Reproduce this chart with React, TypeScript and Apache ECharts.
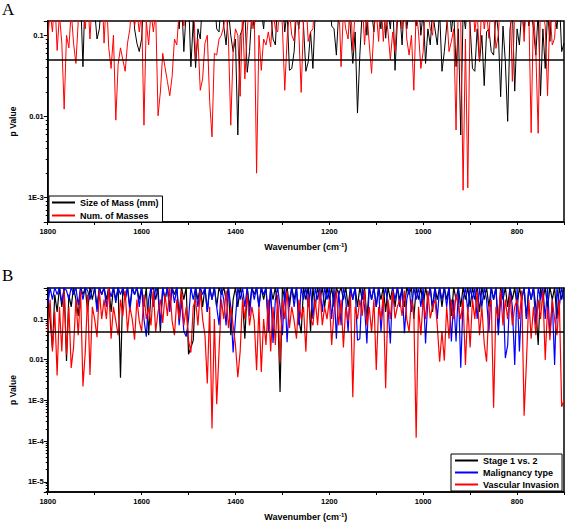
import React, { useEffect, useRef } from 'react';
import * as echarts from 'echarts';

// Wavenumber grid (cm^-1), 1800 -> 700 in steps of 5
const wavenumbers: number[] = [];
for (let w = 1800; w >= 700; w -= 5) wavenumbers.push(w);

// Panel A: p values
const sizeOfMass: number[] = [
  .5, .4, .5, .3, .5, .4, .5, .3, .5, .4,
  .5, .3, .5, .4, .3, .041, .4, .5, .3, .5,
  .2, .09, .12, .3, .5, .4, .3, .5, .4, .3,
  .5, .3, .5, .4, .3, .2, .5, .12, .08, .063,
  .09, .3, .5, .4, .3, .5, .4, .3, .5, .4,
  .5, .3, .4, .5, .2, .3, .12, .3, .063, .2,
  .3, .041, .15, .04, .12, .09, .3, .2, .4, .3,
  .4, .3, .12, .11, .3, .13, .076, .2, .1, .063,
  .09, .0059, .1, .12, .2, .035, .063, .2, .12, .3,
  .3, .2, .12, .3, .4, .2, .09, .076, .3, .2,
  .3, .11, .2, .037, .039, .063, .2, .12, .3, .13,
  .036, .047, .11, .039, .2, .5, .5, .5, .5, .5,
  .4, .13, .12, .057, .2, .3, .4, .2, .3, .12,
  .045, .11, .011, .057, .2, .3, .1, .3, .2, .11,
  .3, .2, .12, .4, .092, .2, .12, .3, .037, .15,
  .2, .076, .3, .12, .2, .3, .2, .13, .3, .1,
  .2, .045, .12, .076, .2, .12, .076, .2, .036, .063,
  .13, .3, .11, .2, .041, .12, .0059, .2, .12, .3,
  .13, .039, .036, .12, .047, .1, .024, .11, .12, .063,
  .057, .2, .11, .0175, .13, .047, .0087, .12, .2, .0205,
  .12, .076, .2, .11, .3, .13, .2, .12, .057, .2,
  .018, .12, .039, .2, .084, .3, .2, .12, .3, .063,
  .08,
];

const numOfMasses: number[] = [
  .09, .2, .11, .3, .065, .18, .08, .0123, .1, .07,
  .2, .08, .045, .15, .3, .2, .12, .3, .09, .3,
  .4, .2, .3, .5, .08, .3, .07, .039, .1, .009,
  .044, .07, .05, .036, .08, .12, .3, .13, .2, .11,
  .2, .0078, .15, .076, .2, .11, .2, .0102, .02, .06,
  .04, .027, .018, .031, .09, .076, .2, .3, .13, .3,
  .3, .2, .4, .05, .09, .021, .029, .08, .1, .0153,
  .0056, .06, .057, .09, .1, .13, .2, .09, .0078, .063,
  .12, .1, .0177, .2, .029, .11, .3, .12, .2, .002,
  .1, .037, .09, .076, .11, .072, .2, .12, .11, .3,
  .13, .021, .09, .2, .1, .085, .3, .11, .0198, .15,
  .3, .084, .11, .12, .3, .5, .5, .5, .5, .5,
  .5, .3, .2, .4, .3, .041, .2, .12, .09, .3,
  .065, .2, .3, .15, .3, .076, .2, .08, .034, .12,
  .2, .084, .3, .084, .2, .11, .05, .11, .063, .2,
  .3, .12, .3, .09, .057, .1, .021, .2, .11, .039,
  .063, .3, .2, .12, .1, .3, .2, .4, .3, .2,
  .2, .063, .084, .12, .0068, .3, .15, .00123, .09, .00132,
  .2, .3, .11, .2, .047, .3, .12, .2, .092, .3,
  .2, .069, .1, .3, .2, .3, .2, .3, .027, .2,
  .3, .2, .3, .084, .3, .2, .0063, .2, .063, .0062,
  .3, .2, .13, .018, .2, .076, .092, .3, .2, .3,
  .2,
];

// Panel B: p values
const stage1vs2: number[] = [
  .3, .1, .019, .4, .15, .6, .2, .6, .0093, .4,
  .2, .6, .3, .12, .6, .4, .6, .15, .6, .3,
  .6, .2, .6, .4, .6, .3, .6, .15, .6, .3,
  .6, .0036, .6, .3, .6, .2, .6, .4, .6, .3,
  .6, .2, .6, .04, .5, .6, .3, .6, .049, .6,
  .3, .6, .2, .6, .4, .6, .12, .6, .3, .6,
  .0136, .02, .03, .6, .3, .6, .2, .6, .15, .6,
  .3, .6, .2, .6, .4, .6, .3, .6, .04, .3,
  .6, .2, .6, .3, .033, .6, .2, .6, .4, .6,
  .2, .6, .3, .6, .1, .6, .3, .6, .2, .0016,
  .6, .3, .6, .2, .6, .3, .6, .1, .045, .6,
  .3, .6, .05, .6, .2, .6, .3, .6, .2, .6,
  .3, .6, .2, .6, .4, .6, .3, .6, .2, .6,
  .3, .6, .2, .6, .3, .6, .1, .6, .3, .6,
  .2, .6, .3, .6, .15, .6, .3, .6, .2, .6,
  .3, .6, .2, .6, .4, .6, .1, .6, .3, .6,
  .2, .6, .3, .6, .15, .6, .3, .6, .2, .6,
  .3, .6, .12, .6, .3, .6, .2, .6, .3, .6,
  .2, .6, .3, .6, .15, .6, .3, .6, .2, .6,
  .3, .6, .07, .6, .3, .6, .2, .6, .3, .6,
  .2, .6, .3, .6, .1, .6, .3, .6, .2, .023,
  .6, .3, .6, .2, .6, .3, .6, .1, .6, .3,
  .6,
];

const malignancyType: number[] = [
  .22, .6, .3, .6, .4, .6, .25, .6, .5, .3,
  .6, .4, .6, .22, .6, .3, .6, .5, .3, .6,
  .6, .15, .6, .4, .6, .2, .6, .35, .6, .25,
  .6, .4, .6, .3, .6, .15, .6, .4, .6, .2,
  .6, .1, .037, .3, .6, .2, .6, .4, .07, .6,
  .3, .6, .15, .6, .25, .6, .071, .3, .05, .037,
  .1, .6, .3, .6, .2, .6, .4, .6, .15, .6,
  .3, .6, .2, .071, .6, .3, .07, .6, .2, .015,
  .1, .6, .3, .6, .2, .6, .12, .6, .3, .6,
  .2, .6, .4, .6, .05, .6, .026, .3, .6, .2,
  .04, .6, .027, .3, .6, .2, .6, .071, .6, .3,
  .6, .2, .6, .1, .6, .3, .6, .15, .6, .3,
  .6, .1, .6, .033, .5, .071, .6, .3, .049, .6,
  .3, .6, .03, .033, .6, .2, .025, .6, .3, .6,
  .2, .6, .049, .3, .6, .2, .025, .6, .3, .6,
  .2, .6, .045, .3, .6, .15, .6, .3, .6, .2,
  .6, .025, .3, .6, .2, .6, .1, .6, .3, .6,
  .2, .6, .028, .3, .028, .6, .0064, .3, .6, .15,
  .6, .3, .6, .1, .6, .2, .6, .3, .049, .6,
  .3, .6, .04, .3, .6, .011, .023, .6, .2, .0074,
  .6, .016, .3, .6, .1, .6, .3, .6, .07, .6,
  .3, .6, .1, .6, .04, .3, .0074, .6, .2, .6,
  .3,
];

const vascularInvasion: number[] = [
  .05, .3, .016, .15, .0041, .2, .016, .5, .013, .2,
  .0063, .02, .3, .04, .5, .0022, .016, .4, .0042, .2,
  .1, .036, .5, .1, .3, .1, .6, .033, .2, .09,
  .04, .3, .12, .5, .049, .2, .1, .031, .3, .09,
  .049, .4, .1, .2, .07, .5, .049, .15, .3, .08,
  .4, .12, .6, .09, .04, .3, .1, .5, .07, .2,
  .03, .015, .2, .3, .07, .5, .1, .04, .0026, .2,
  .000205, .1, .00081, .016, .3, .1, .5, .06, .2, .07,
  .023, .0037, .016, .3, .1, .4, .07, .2, .09, .0055,
  .2, .005, .1, .023, .3, .016, .2, .023, .4, .0085,
  .3, .1, .5, .06, .2, .09, .033, .3, .1, .2,
  .0158, .4, .1, .07, .3, .071, .5, .071, .2, .1,
  .3, .023, .15, .5, .07, .3, .02, .2, .09, .4,
  .0012, .2, .1, .3, .12, .5, .07, .2, .047, .3,
  .0056, .2, .1, .4, .002, .3, .1, .5, .104, .2,
  .3, .12, .5, .1, .049, .3, .15, .00012, .2, .04,
  .3, .1, .5, .104, .2, .3, .07, .0089, .05, .0095,
  .2, .033, .3, .1, .4, .2, .1, .3, .0074, .2,
  .02, .3, .1, .5, .04, .2, .025, .0089, .2, .3,
  .00066, .2, .1, .5, .07, .3, .1, .4, .07, .2,
  .3, .1, .5, .00042, .0089, .3, .033, .2, .04, .3,
  .1, .5, .0098, .2, .03, .3, .1, .04, .3, .0007,
  .001,
];

const threshold = 0.05;

const FONT = 'Liberation Sans, Arial, sans-serif';

const pairs = (vals: number[]) => vals.map((p, i) => [wavenumbers[i], p]);

const fmtLog = (v: number) => {
  const l = Math.log10(v);
  const e = Math.round(l);
  if (Math.abs(l - e) > 1e-6) return '';
  if (e >= -2) return String(Math.pow(10, e));
  return '1E' + e;
};

const axisLabelStyle = { fontSize: 7.5, fontWeight: 'bold', color: '#000', fontFamily: FONT };
const axisNameStyle = {
  fontSize: 9,
  fontWeight: 'bold',
  color: '#000',
  fontFamily: FONT,
  rich: {
    sup: { fontSize: 6, fontWeight: 'bold', fontFamily: FONT, color: '#000', verticalAlign: 'top', lineHeight: 8 },
  },
};

const xAxisFor = (gridIndex: number) => ({
  type: 'value',
  gridIndex,
  min: 700,
  max: 1800,
  interval: 100,
  inverse: true,
  name: 'Wavenumber (cm{sup|-1})',
  nameLocation: 'middle',
  nameGap: 20,
  nameTextStyle: axisNameStyle,
  axisLine: { show: true, onZero: false, lineStyle: { color: '#000', width: 1.5 } },
  axisTick: { show: true, length: 3, lineStyle: { color: '#000', width: 1 } },
  axisLabel: {
    ...axisLabelStyle,
    margin: 5,
    formatter: (v: number) => (v % 200 === 0 ? String(v) : ''),
  },
  splitLine: { show: false },
});

const yAxisFor = (gridIndex: number, min: number, max: number) => ({
  type: 'log',
  logBase: 10,
  gridIndex,
  min,
  max,
  name: 'p Value',
  nameLocation: 'middle',
  nameGap: 27,
  nameRotate: 90,
  nameTextStyle: { fontSize: 8.5, fontWeight: 'bold', color: '#000', fontFamily: FONT },
  axisLine: { show: true, onZero: false, lineStyle: { color: '#000', width: 1.5 } },
  axisTick: { show: true, length: 4, lineStyle: { color: '#000', width: 1 } },
  minorTick: { show: true, splitNumber: 9, length: 2, lineStyle: { color: '#000', width: 1 } },
  axisLabel: { ...axisLabelStyle, margin: 4, formatter: fmtLog },
  splitLine: { show: false },
  minorSplitLine: { show: false },
});

const lineSeries = (name: string, vals: number[], color: string, idx: number, withLine: boolean, width: number) => ({
  name,
  type: 'line',
  xAxisIndex: idx,
  yAxisIndex: idx,
  data: pairs(vals),
  symbol: 'none',
  showSymbol: false,
  clip: true,
  color,
  lineStyle: { color, width },
  emphasis: { disabled: true },
  markLine: withLine
    ? {
        silent: true,
        symbol: ['none', 'none'],
        label: { show: false },
        lineStyle: { color: '#000', width: 1.5, type: 'solid' },
        data: [{ yAxis: threshold }],
        animation: false,
      }
    : undefined,
});

const legendBase = {
  orient: 'vertical',
  icon: 'rect',
  itemWidth: 23,
  itemHeight: 2,
  borderColor: '#000',
  borderWidth: 1,
  backgroundColor: '#fff',
  selectedMode: false,
  textStyle: { fontSize: 9, fontWeight: 'bold', color: '#000', fontFamily: FONT, lineHeight: 11 },
};

export default function App() {
  const ref = useRef<HTMLDivElement>(null);
  useEffect(() => {
    if (!ref.current) return;
    const chart = echarts.init(ref.current, undefined, { renderer: 'svg' });
    chart.setOption({
      animation: false,
      backgroundColor: '#fff',
      grid: [
        { left: 45, top: 21, width: 519, height: 201, show: true, borderColor: '#000', borderWidth: 1.5, backgroundColor: 'transparent' },
        { left: 45, top: 288, width: 520, height: 204, show: true, borderColor: '#000', borderWidth: 1.5, backgroundColor: 'transparent' },
      ],
      xAxis: [xAxisFor(0), xAxisFor(1)],
      yAxis: [yAxisFor(0, 5e-4, 0.15), yAxisFor(1, 5.6e-6, 0.58)],
      legend: [
        { ...legendBase, data: ['Size of Mass (mm)', 'Num. of Masses'], left: 49, top: 196, itemGap: 2, padding: [1, 4, 1, 3] },
        { ...legendBase, data: ['Stage 1 vs. 2', 'Malignancy type', 'Vascular Invasion'], left: 451, top: 454, itemGap: 1, padding: [1, 3, 1, 4] },
      ],
      graphic: [
        { type: 'text', left: 2, top: 1, style: { text: 'A', fontSize: 17, fontFamily: 'Liberation Serif, Times New Roman, serif', fill: '#000' } },
        { type: 'text', left: 2, top: 267, style: { text: 'B', fontSize: 17, fontFamily: 'Liberation Serif, Times New Roman, serif', fill: '#000' } },
      ],
      series: [
        lineSeries('Size of Mass (mm)', sizeOfMass, '#000000', 0, false, 1),
        lineSeries('Num. of Masses', numOfMasses, '#ff0000', 0, true, 1),
        lineSeries('Stage 1 vs. 2', stage1vs2, '#000000', 1, false, 1.2),
        lineSeries('Malignancy type', malignancyType, '#0000ff', 1, false, 1.2),
        lineSeries('Vascular Invasion', vascularInvasion, '#ff0000', 1, true, 1.2),
      ],
    });
    return () => chart.dispose();
  }, []);
  return <div ref={ref} style={{ position: 'fixed', left: 0, top: 0, width: 567, height: 524 }} />;
}
